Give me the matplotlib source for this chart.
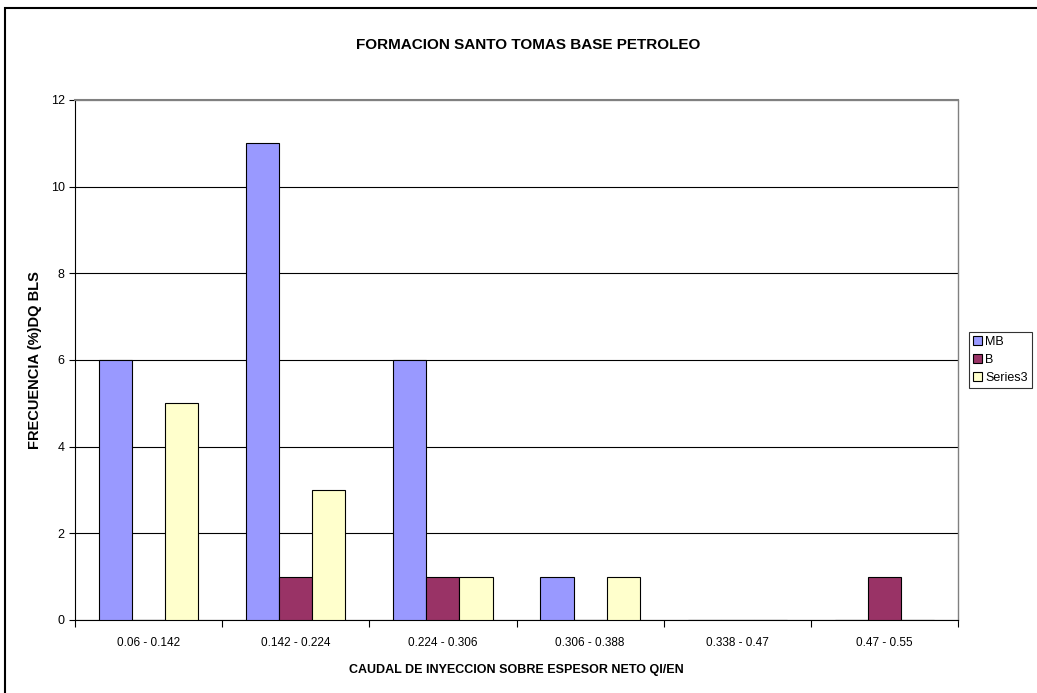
import numpy as np
import matplotlib.pyplot as plt
from matplotlib.patches import Rectangle

# Datos del grafico
categorias = ['0.06 - 0.142', '0.142 - 0.224', '0.224 - 0.306',
              '0.306 - 0.388', '0.338 - 0.47', '0.47 - 0.55']
mb = [6, 11, 6, 1, 0, 0]
b = [0, 1, 1, 0, 0, 1]
series3 = [5, 3, 1, 1, 0, 0]

plt.rcParams['font.family'] = ['Liberation Sans', 'DejaVu Sans']

fig = plt.figure(figsize=(10.37, 6.93), dpi=100)
ax = fig.add_axes([75 / 1037, 1 - 620 / 693, (958 - 75) / 1037, (620 - 100) / 693])

x = np.arange(len(categorias))
w = 0.225
ax.bar(x - w, mb, w, color='#9999FF', edgecolor='black', linewidth=0.8, label='MB', zorder=3)
ax.bar(x, b, w, color='#993366', edgecolor='black', linewidth=0.8, label='B', zorder=3)
ax.bar(x + w, series3, w, color='#FFFFCC', edgecolor='black', linewidth=0.8, label='Series3', zorder=3)

ax.set_xlim(-0.5, len(categorias) - 0.5)
ax.set_ylim(0, 12)
ax.set_yticks(range(0, 13, 2))
ax.yaxis.grid(True, color='black', linewidth=0.8, zorder=0)
ax.set_xticks(np.arange(len(categorias) + 1) - 0.5, minor=False)
ax.set_xticklabels([])
ax.set_xticks(x, minor=True)
ax.set_xticklabels(categorias, minor=True, fontsize=8.5)
ax.tick_params(axis='x', which='minor', length=0, pad=12)
ax.tick_params(axis='x', which='major', length=5, direction='out', color='black')
ax.tick_params(axis='y', labelsize=9, length=4, direction='out')

ax.spines['top'].set_color('#808080')
ax.spines['right'].set_color('#808080')
ax.spines['top'].set_linewidth(1.5)
ax.spines['right'].set_linewidth(1.0)

ax.set_xlabel('CAUDAL DE INYECCION SOBRE ESPESOR NETO QI/EN', fontsize=9,
              fontweight='bold', labelpad=11)
ax.set_ylabel('FRECUENCIA (%)DQ BLS', fontsize=10.5, fontweight='bold', labelpad=6)
fig.text(0.5 + 10 / 1037, 1 - 45 / 693, 'FORMACION SANTO TOMAS BASE PETROLEO',
         ha='center', va='center', fontsize=11, fontweight='bold')

leg = ax.legend(loc='center left', bbox_to_anchor=(969 / 1037, 1 - 360 / 693),
                bbox_transform=fig.transFigure, fontsize=9, frameon=True,
                fancybox=False, edgecolor='black', handlelength=0.7,
                handleheight=0.7, handletextpad=0.3, borderpad=0.3,
                labelspacing=0.5, borderaxespad=0)
leg.get_frame().set_linewidth(0.8)

# Borde exterior del grafico
fig.patches.append(Rectangle((5 / 1037, -0.01), 1.02, 1 - 8 / 693 + 0.01,
                             transform=fig.transFigure, fill=False,
                             edgecolor='black', linewidth=1.5))

fig.savefig('out.png', dpi=100)
